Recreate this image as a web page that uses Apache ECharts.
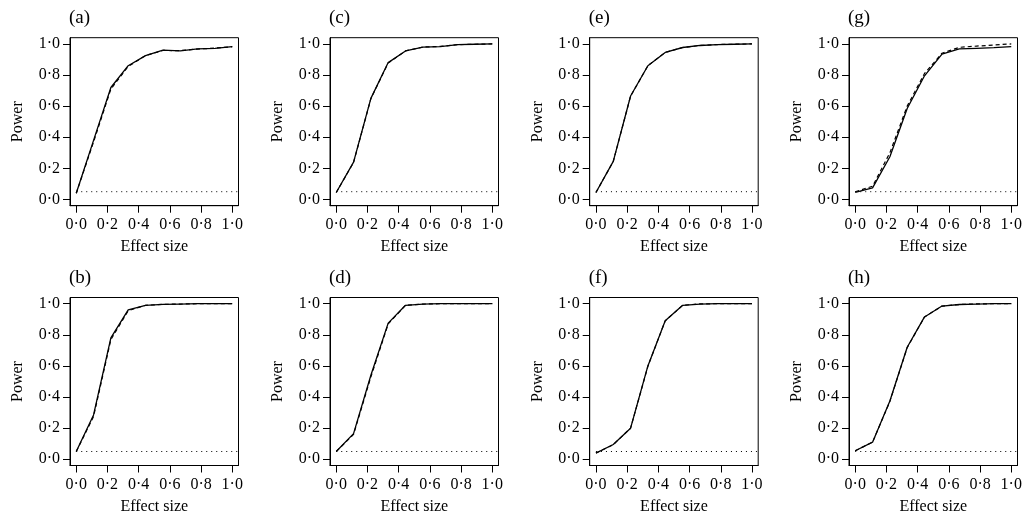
<!DOCTYPE html>
<html>
<head>
<meta charset="utf-8">
<script src="https://cdn.jsdelivr.net/npm/echarts@6/dist/echarts.min.js"></script>
<style>
html,body{margin:0;padding:0;background:#fff;}
#chart{width:1026px;height:520px;}
</style>
</head>
<body>
<div id="chart"></div>
<script>
// ---- data ----
var effectSize = [0, 0.111, 0.222, 0.333, 0.444, 0.556, 0.667, 0.778, 0.889, 1.0];
var tickValues = [0, 0.2, 0.4, 0.6, 0.8, 1.0];
var nominalLevel = 0.05;
var panelLabels = ['(a)', '(b)', '(c)', '(d)', '(e)', '(f)', '(g)', '(h)'];

var aSolid  = [0.040, 0.380, 0.720, 0.860, 0.925, 0.960, 0.955, 0.968, 0.972, 0.983];
var aDashed = [0.040, 0.370, 0.710, 0.855, 0.925, 0.958, 0.957, 0.967, 0.973, 0.982];
var bSolid  = [0.050, 0.285, 0.780, 0.960, 0.990, 0.996, 0.998, 1.000, 1.000, 1.000];
var bDashed = [0.050, 0.275, 0.770, 0.955, 0.990, 0.996, 0.998, 1.000, 1.000, 1.000];
var cSolid  = [0.045, 0.240, 0.650, 0.880, 0.955, 0.980, 0.983, 0.995, 0.998, 1.000];
var cDashed = [0.045, 0.238, 0.648, 0.878, 0.955, 0.980, 0.984, 0.995, 0.998, 1.000];
var dSolid  = [0.050, 0.165, 0.540, 0.875, 0.990, 0.998, 1.000, 1.000, 1.000, 1.000];
var dDashed = [0.050, 0.160, 0.530, 0.870, 0.990, 0.998, 1.000, 1.000, 1.000, 1.000];
var eSolid  = [0.045, 0.245, 0.665, 0.860, 0.945, 0.977, 0.990, 0.995, 0.998, 1.000];
var eDashed = [0.045, 0.244, 0.664, 0.860, 0.945, 0.977, 0.990, 0.996, 0.998, 1.000];
var fSolid  = [0.040, 0.095, 0.200, 0.600, 0.890, 0.990, 0.998, 1.000, 1.000, 1.000];
var fDashed = [0.040, 0.094, 0.200, 0.598, 0.890, 0.990, 0.999, 1.000, 1.000, 1.000];
var gSolid  = [0.045, 0.075, 0.275, 0.585, 0.795, 0.935, 0.968, 0.972, 0.976, 0.983];
var gDashed = [0.050, 0.085, 0.300, 0.600, 0.810, 0.940, 0.978, 0.986, 0.993, 1.000];
var hSolid  = [0.055, 0.110, 0.375, 0.720, 0.915, 0.985, 0.995, 0.998, 1.000, 1.000];
var hDashed = [0.055, 0.110, 0.372, 0.718, 0.915, 0.985, 0.995, 0.999, 1.000, 1.000];

var solidSets  = [aSolid, bSolid, cSolid, dSolid, eSolid, fSolid, gSolid, hSolid];
var dashedSets = [aDashed, bDashed, cDashed, dDashed, eDashed, fDashed, gDashed, hDashed];

(function () {
  // ---- layout ----
  var colLefts = [70, 330, 589.7, 849];
  var rowTops = [37.7, 297.5];
  var boxW = 168.5, boxH = 168;
  var axMin = -0.04, axMax = 1.04;   // R-style 4% extension
  var FONT = 'Liberation Serif';

  function fmt(v) { return Number(v).toFixed(1).replace('.', '\u00B7'); }
  function pairs(xs, ys) { return xs.map(function (x, i) { return [x, ys[i]]; }); }

  var grids = [], xAxes = [], yAxes = [], series = [], titles = [];
  for (var p = 0; p < 8; p++) {
    var col = Math.floor(p / 2), row = p % 2;
    var gLeft = colLefts[col], gTop = rowTops[row];
    grids.push({left: gLeft, top: gTop, width: boxW, height: boxH, show: true,
      borderColor: '#000', borderWidth: 1, backgroundColor: 'rgba(0,0,0,0)', containLabel: false});
    titles.push({text: panelLabels[p], left: gLeft - 6, top: gTop - 34,
      textStyle: {fontFamily: FONT, fontSize: 19, fontWeight: 'normal', color: '#000'}});
    xAxes.push({type: 'value', gridIndex: p, min: axMin, max: axMax,
      name: 'Effect size', nameLocation: 'middle', nameGap: 33,
      nameTextStyle: {fontFamily: FONT, fontSize: 16, color: '#000'},
      axisLine: {show: true, onZero: false, lineStyle: {color: '#000', width: 1}},
      axisTick: {show: true, inside: false, length: 7, customValues: tickValues, lineStyle: {color: '#000'}},
      axisLabel: {show: true, margin: 11, customValues: tickValues, formatter: fmt,
        fontFamily: FONT, fontSize: 16, color: '#000'},
      splitLine: {show: false}});
    yAxes.push({type: 'value', gridIndex: p, min: axMin, max: axMax,
      name: 'Power', nameLocation: 'middle', nameGap: 44, nameRotate: 90,
      nameTextStyle: {fontFamily: FONT, fontSize: 16, color: '#000'},
      axisLine: {show: true, onZero: false, lineStyle: {color: '#000', width: 1}},
      axisTick: {show: true, inside: false, length: 7, customValues: tickValues, lineStyle: {color: '#000'}},
      axisLabel: {show: true, margin: 10, customValues: tickValues, formatter: fmt,
        fontFamily: FONT, fontSize: 16, color: '#000'},
      splitLine: {show: false}});
    series.push({type: 'line', xAxisIndex: p, yAxisIndex: p, silent: true, symbol: 'none',
      data: [[effectSize[0], nominalLevel], [axMax, nominalLevel]],
      lineStyle: {color: '#000', width: 1, type: [1, 4]}, z: 1});
    series.push({type: 'line', xAxisIndex: p, yAxisIndex: p, silent: true, symbol: 'none',
      data: pairs(effectSize, dashedSets[p]),
      lineStyle: {color: '#000', width: 1.2, type: [4, 3]}, z: 2});
    series.push({type: 'line', xAxisIndex: p, yAxisIndex: p, silent: true, symbol: 'none',
      data: pairs(effectSize, solidSets[p]),
      lineStyle: {color: '#000', width: 1.3, type: 'solid'}, z: 3});
  }

  var chart = echarts.init(document.getElementById('chart'), null, {renderer: 'canvas'});
  chart.setOption({
    animation: false,
    backgroundColor: '#fff',
    title: titles,
    grid: grids,
    xAxis: xAxes,
    yAxis: yAxes,
    series: series
  });
})();
</script>
</body>
</html>
